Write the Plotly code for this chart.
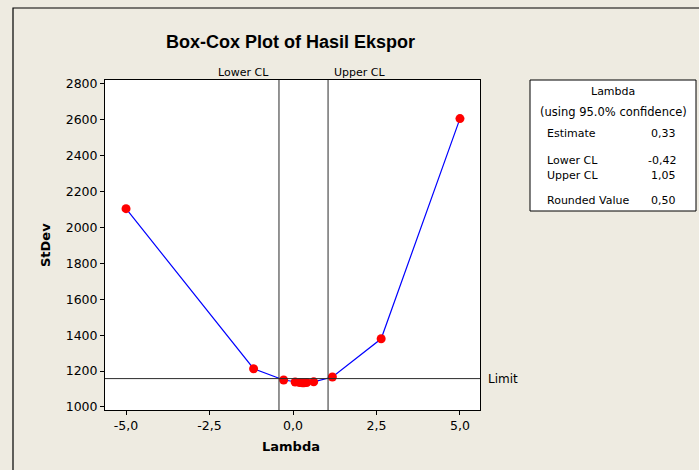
import plotly.graph_objects as go

# Data
lambdas = [-5.0, -1.18, -0.28, 0.064, 0.195, 0.28, 0.33, 0.41, 0.62, 1.18, 2.64, 5.0]
stdevs = [2105, 1213, 1150, 1139, 1136, 1135, 1135, 1136, 1140, 1167, 1380, 2607]
lower_cl = -0.42
upper_cl = 1.05
limit_value = 1158
x_tickvals = [-5.0, -2.5, 0.0, 2.5, 5.0]
x_ticktext = ["-5,0", "-2,5", "0,0", "2,5", "5,0"]
y_tickvals = [1000, 1200, 1400, 1600, 1800, 2000, 2200, 2400, 2600, 2800]
info_labels = ["Estimate", "Lower CL", "Upper CL", "Rounded Value"]
info_values = ["0,33", "-0,42", "1,05", "0,50"]

W, H = 699, 470
L, R, T, B = 105, 480, 80, 410  # plot area pixel box
FONT = "DejaVu Sans"
BG = "#EEEBE1"


def px(x):
    return (x - L) / (R - L)


def py(y):
    return (B - y) / (B - T)


fig = go.Figure()
fig.add_trace(go.Scatter(
    x=lambdas, y=stdevs, mode="lines+markers",
    line=dict(color="#0000FF", width=1.2),
    marker=dict(color="#FF0000", size=9),
    showlegend=False, hoverinfo="x+y",
))

shapes = [
    # outer frame
    dict(type="rect", xref="paper", yref="paper", x0=px(13), x1=px(760), y0=py(520), y1=py(8),
         line=dict(color="black", width=1.2), fillcolor="rgba(0,0,0,0)", layer="below"),
    # CL lines
    dict(type="line", xref="x", yref="paper", x0=lower_cl, x1=lower_cl, y0=0, y1=1,
         line=dict(color="#2a2a2a", width=1)),
    dict(type="line", xref="x", yref="paper", x0=upper_cl, x1=upper_cl, y0=0, y1=1,
         line=dict(color="#2a2a2a", width=1)),
    # limit line
    dict(type="line", xref="paper", yref="y", x0=0, x1=1, y0=limit_value, y1=limit_value,
         line=dict(color="#2a2a2a", width=1)),
    # info box
    dict(type="rect", xref="paper", yref="paper", x0=px(530), x1=px(696), y0=py(211), y1=py(80),
         line=dict(color="black", width=1), fillcolor="white"),
]

annotations = [
    dict(text="<b>Box-Cox Plot of Hasil Ekspor</b>", xref="paper", yref="paper",
         x=px(290), y=py(42), xanchor="center", yanchor="middle", showarrow=False,
         font=dict(family="Liberation Sans", size=18, color="black")),
    dict(text="Lower CL", xref="x", yref="paper", x=lower_cl, y=py(72), xanchor="right",
         yanchor="middle", xshift=-8, showarrow=False, font=dict(family=FONT, size=11, color="black")),
    dict(text="Upper CL", xref="x", yref="paper", x=upper_cl, y=py(72), xanchor="left",
         yanchor="middle", xshift=4, showarrow=False, font=dict(family=FONT, size=11, color="black")),
    dict(text="Limit", xref="paper", yref="y", x=px(486), y=limit_value, xanchor="left",
         yanchor="middle", showarrow=False, font=dict(family=FONT, size=12, color="black")),
    dict(text="<b>StDev</b>", xref="paper", yref="paper", x=px(45), y=py(245), textangle=-90,
         xanchor="center", yanchor="middle", showarrow=False,
         font=dict(family=FONT, size=13, color="black")),
    dict(text="<b>Lambda</b>", xref="paper", yref="paper", x=px(291), y=py(446),
         xanchor="center", yanchor="middle", showarrow=False,
         font=dict(family=FONT, size=13, color="black")),
    dict(text="Lambda", xref="paper", yref="paper", x=px(613), y=py(91),
         xanchor="center", yanchor="middle", showarrow=False,
         font=dict(family=FONT, size=11, color="black")),
    dict(text="(using 95.0% confidence)", xref="paper", yref="paper", x=px(613), y=py(112),
         xanchor="center", yanchor="middle", showarrow=False,
         font=dict(family=FONT, size=11.5, color="black")),
]
row_y = [133, 160, 175, 200]
for lab, val, yy in zip(info_labels, info_values, row_y):
    annotations.append(dict(text=lab, xref="paper", yref="paper", x=px(545), y=py(yy),
                            xanchor="left", yanchor="middle", showarrow=False,
                            font=dict(family=FONT, size=11, color="black")))
    annotations.append(dict(text=val, xref="paper", yref="paper", x=px(678), y=py(yy),
                            xanchor="right", yanchor="middle", showarrow=False,
                            font=dict(family=FONT, size=11, color="black")))

fig.update_layout(
    width=W, height=H,
    margin=dict(l=L, r=W - R, t=T, b=H - B, pad=0),
    paper_bgcolor=BG, plot_bgcolor="white",
    shapes=shapes, annotations=annotations,
    font=dict(family=FONT, size=12, color="black"),
)
fig.update_xaxes(
    range=[-5.63, 5.6], tickvals=x_tickvals, ticktext=x_ticktext,
    showgrid=False, zeroline=False, showline=True, linecolor="black", linewidth=1, mirror=True,
    ticks="outside", ticklen=4, tickcolor="black", tickfont=dict(family=FONT, size=12.5),
)
fig.update_yaxes(
    range=[983, 2822], tickvals=y_tickvals,
    showgrid=False, zeroline=False, showline=True, linecolor="black", linewidth=1, mirror=True,
    ticks="outside", ticklen=4, tickcolor="black", tickfont=dict(family=FONT, size=12.5),
)

fig.write_html(
    "out.html",
    config={"displayModeBar": False},
    post_script="document.body.style.margin='0';document.body.style.overflow='hidden';",
)
